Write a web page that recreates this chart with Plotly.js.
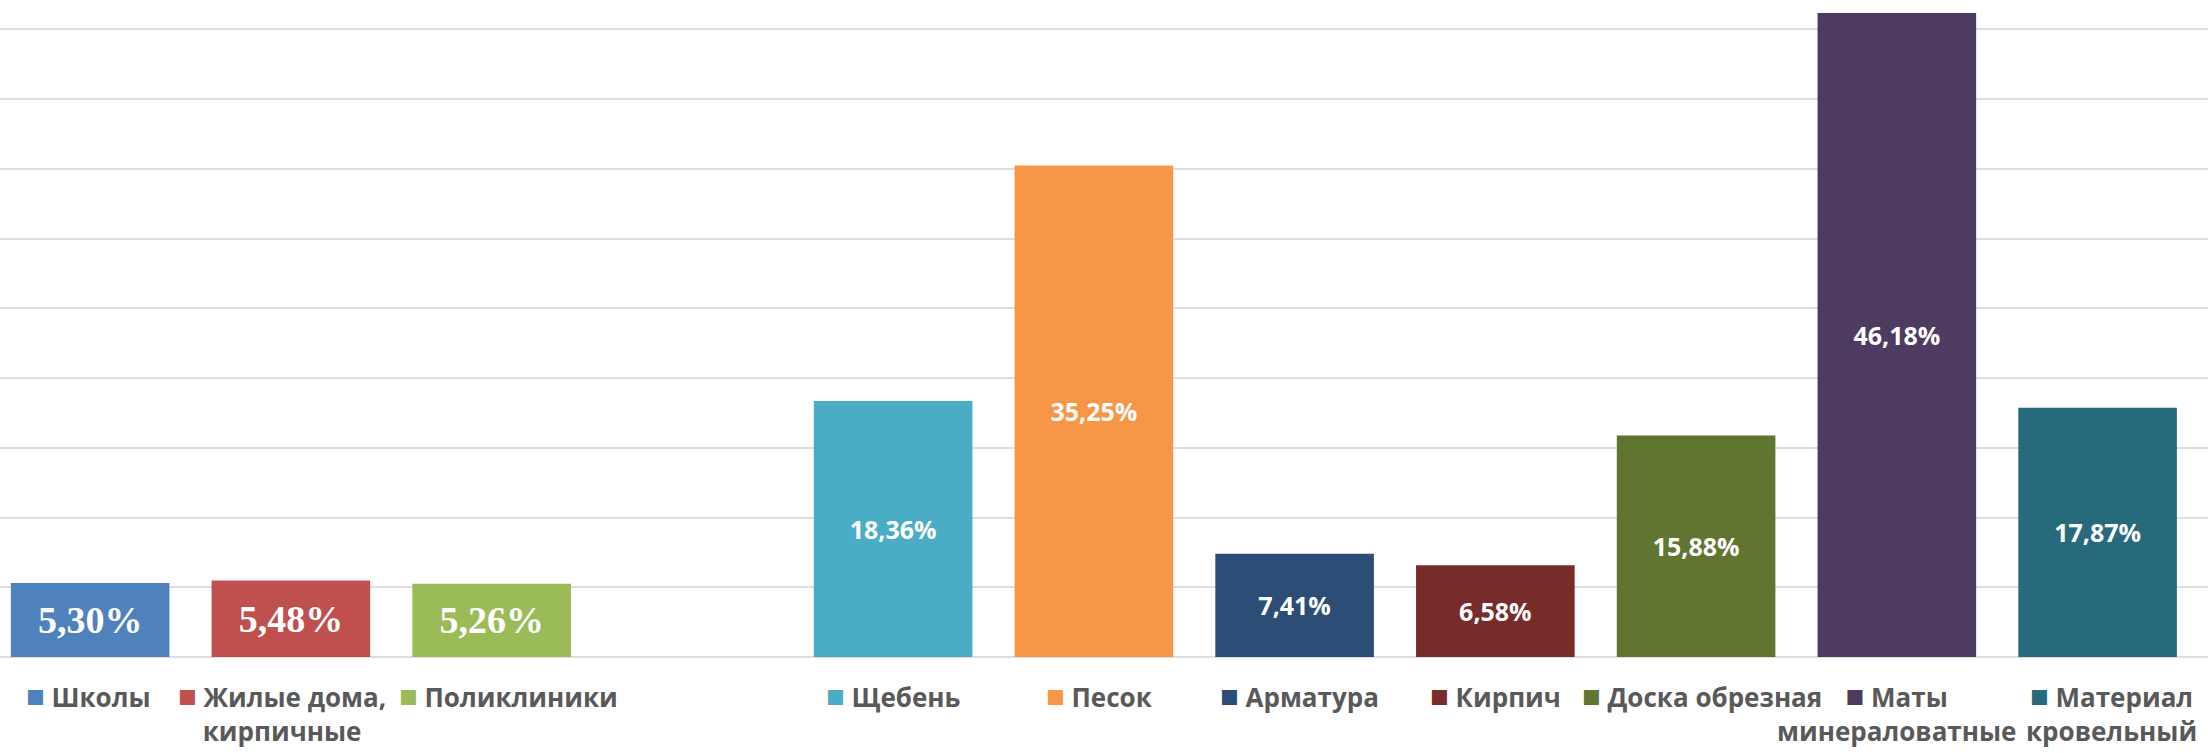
<!DOCTYPE html>
<html>
<head>
<meta charset="utf-8">
<script src="https://cdn.plot.ly/plotly-3.0.1.min.js"></script>
<style>html,body{margin:0;padding:0;background:#fff;}#chart{width:2208px;height:753px;}</style>
</head>
<body>
<div id="chart"></div>
<script>
// Data
var groupObjects = ['Школы', 'Жилые дома, кирпичные', 'Поликлиники'];
var groupMaterials = ['Щебень', 'Песок', 'Арматура', 'Кирпич', 'Доска обрезная', 'Маты минераловатные', 'Материал кровельный'];
var valuesObjects = [5.30, 5.48, 5.26];
var valuesMaterials = [18.36, 35.25, 7.41, 6.58, 15.88, 46.18, 17.87];
var legendLabels = ['Школы', 'Жилые дома,<br>кирпичные', 'Поликлиники', 'Щебень', 'Песок', 'Арматура', 'Кирпич', 'Доска обрезная', 'Маты<br>минераловатные', 'Материал<br>кровельный'];
var colors = ['#4f81bd', '#c0504d', '#9bbb59', '#4bacc6', '#f79646', '#2c4d75', '#772c2a', '#5f7530', '#4d3b62', '#276a7c'];

// Legend label horizontal nudges (pixels, styling only)
var legendShift = [-2, -9, 17, 0, 6, 5, 0, 6, 0, 14];

var categories = groupObjects.concat(groupMaterials);
var values = valuesObjects.concat(valuesMaterials);
var labels = values.map(function (v) { return v.toFixed(2).replace('.', ',') + '%'; });
var categoryOrder = groupObjects.concat([' '], groupMaterials);

var fontFamilies = categories.map(function (c, i) { return i < groupObjects.length ? 'Liberation Serif' : 'Open Sans'; });
var fontSizes = categories.map(function (c, i) { return i < groupObjects.length ? 38 : 25; });

var trace = {
  type: 'bar',
  x: categories,
  y: values,
  marker: { color: colors, line: { width: 0 } },
  text: labels,
  textposition: 'inside',
  insidetextanchor: 'middle',
  constraintext: 'none',
  textangle: 0,
  textfont: { family: fontFamilies, size: fontSizes, color: '#ffffff', weight: 700 },
  hoverinfo: 'none',
  showlegend: false
};

var annotations = categories.map(function (c, i) {
  return {
    x: c, xref: 'x',
    y: 0, yref: 'paper',
    yanchor: 'top', xanchor: 'center',
    yshift: -15,
    xshift: legendShift[i],
    align: 'center',
    showarrow: false,
    text: '<span style="color:' + colors[i] + ';font-size:31px">■</span> ' + legendLabels[i],
    font: { family: 'Open Sans', size: 26, color: '#595959', weight: 700 }
  };
});

var layout = {
  width: 2208,
  height: 753,
  margin: { l: 0, r: 0, t: 0, b: 96, pad: 0 },
  paper_bgcolor: '#ffffff',
  plot_bgcolor: '#ffffff',
  bargap: 0.21,
  xaxis: {
    type: 'category',
    categoryorder: 'array',
    categoryarray: categoryOrder,
    range: [-0.449, 10.55],
    showticklabels: false,
    showgrid: false,
    zeroline: false,
    showline: false,
    ticks: ''
  },
  yaxis: {
    range: [0, 47.11],
    dtick: 5,
    tick0: 0,
    showticklabels: false,
    showgrid: true,
    gridcolor: '#dedede',
    gridwidth: 2,
    zeroline: true,
    zerolinecolor: '#dedede',
    zerolinewidth: 2,
    showline: false,
    ticks: ''
  },
  annotations: annotations,
  showlegend: false
};

Plotly.newPlot('chart', [trace], layout, { displayModeBar: false, staticPlot: true });
</script>
</body>
</html>
